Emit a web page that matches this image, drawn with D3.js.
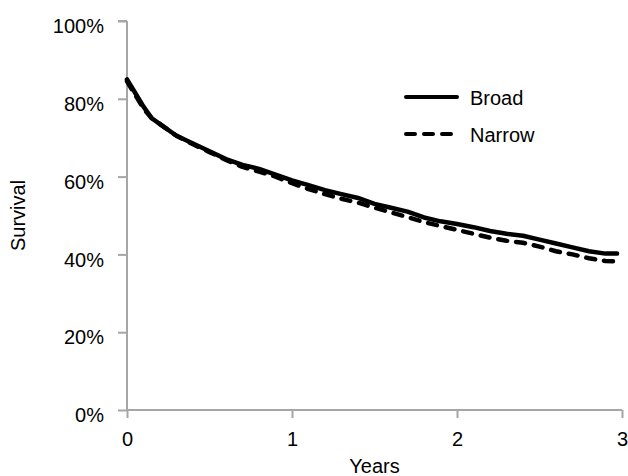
<!DOCTYPE html>
<html>
<head>
<meta charset="utf-8">
<script src="https://cdn.jsdelivr.net/npm/d3@7"></script>
<style>
  body { margin: 0; background: #fff; }
  text { font-family: "Liberation Sans", Arial, sans-serif; }
</style>
</head>
<body>
<div id="chart"></div>
<script>
const years = [0, 0.05, 0.1, 0.15, 0.2, 0.3, 0.4, 0.5, 0.6, 0.7, 0.8, 0.9, 1.0, 1.1, 1.2, 1.3, 1.4, 1.5, 1.6, 1.7, 1.8, 1.9, 2.0, 2.1, 2.2, 2.3, 2.4, 2.5, 2.6, 2.7, 2.8, 2.9, 2.97];
const broad = [85, 81.5, 78, 75, 73.5, 70.5, 68.5, 66.5, 64.5, 63, 62, 60.5, 59, 57.8, 56.5, 55.5, 54.5, 53, 52, 51, 49.5, 48.5, 47.8, 47, 46, 45.3, 44.8, 43.8, 42.8, 41.8, 40.8, 40.2, 40.2];
const narrow = [84.5, 81, 77.5, 75, 73.5, 70.5, 68.3, 66.3, 64.3, 62.5, 61.3, 60, 58.3, 56.8, 55.5, 54.3, 53.3, 52, 50.8, 49.6, 48.3, 47.3, 46.3, 45.3, 44.3, 43.5, 43, 42, 40.8, 40, 39, 38.3, 38.2];
const xTicks = [0, 1, 2, 3];
const yTicks = [0, 20, 40, 60, 80, 100];
const seriesNames = ["Broad", "Narrow"];

const width = 628;
const height = 476;
const mLeft = 127, mRight = 622, mTop = 21, mBottom = 410;
const axisColor = "#a6a6a6";
const fontSize = 20;

const x = d3.scaleLinear([0, 3], [mLeft, mRight]);
const y = d3.scaleLinear([0, 100], [mBottom, mTop]);

const svg = d3.select("#chart")
  .append("svg")
  .attr("width", width)
  .attr("height", height)
  .attr("viewBox", [0, 0, width, height]);

// y axis
const yAxis = d3.axisLeft(y)
  .tickValues(yTicks)
  .tickSize(9)
  .tickPadding(14)
  .tickFormat((d) => d + "%");

svg.append("g")
  .attr("transform", `translate(${mLeft},0)`)
  .call(yAxis)
  .call((g) => g.selectAll("path, line").attr("stroke", axisColor).attr("stroke-width", 2))
  .call((g) => g.select(".domain").attr("d", `M0,${mTop}H-9M0,${mTop}V${mBottom}`))
  .call((g) => g.selectAll("text")
    .attr("fill", "#000")
    .attr("font-size", fontSize)
    .attr("dy", "0.58em")
    .style("font-family", '"Liberation Sans", Arial, sans-serif'));

// x axis
const xAxis = d3.axisBottom(x)
  .tickValues(xTicks)
  .tickSize(8)
  .tickPadding(14)
  .tickFormat(d3.format("d"));

svg.append("g")
  .attr("transform", `translate(0,${mBottom})`)
  .call(xAxis)
  .call((g) => g.selectAll("path, line").attr("stroke", axisColor).attr("stroke-width", 2))
  .call((g) => g.select(".domain").attr("d", `M${mLeft},0H${mRight}`))
  .call((g) => g.selectAll("text")
    .attr("fill", "#000")
    .attr("font-size", fontSize)
    .style("font-family", '"Liberation Sans", Arial, sans-serif'));

// axis titles
svg.append("text")
  .attr("x", (mLeft + mRight) / 2)
  .attr("y", 473)
  .attr("text-anchor", "middle")
  .attr("font-size", fontSize)
  .text("Years");

svg.append("text")
  .attr("transform", `translate(25,${(mTop + mBottom) / 2}) rotate(-90)`)
  .attr("text-anchor", "middle")
  .attr("font-size", fontSize)
  .text("Survival");

// curves
const line = d3.line()
  .x((d, i) => x(years[i]))
  .y((d) => y(d));

const dashes = [null, "9,9"];

[broad, narrow].forEach((s, k) => {
  svg.append("path")
    .attr("fill", "none")
    .attr("stroke", "#000")
    .attr("stroke-width", 4.5)
    .attr("stroke-linecap", "round")
    .attr("stroke-linejoin", "round")
    .attr("stroke-dasharray", dashes[k])
    .attr("d", line(s));
});

// legend
const legend = svg.append("g");
seriesNames.forEach((name, k) => {
  const ly = 97 + k * 37;
  legend.append("line")
    .attr("x1", 406).attr("x2", 457)
    .attr("y1", ly).attr("y2", ly)
    .attr("stroke", "#000")
    .attr("stroke-width", 4)
    .attr("stroke-linecap", "round")
    .attr("stroke-dasharray", dashes[k]);
  legend.append("text")
    .attr("x", 470)
    .attr("y", ly + 8)
    .attr("font-size", fontSize)
    .text(name);
});
</script>
</body>
</html>
